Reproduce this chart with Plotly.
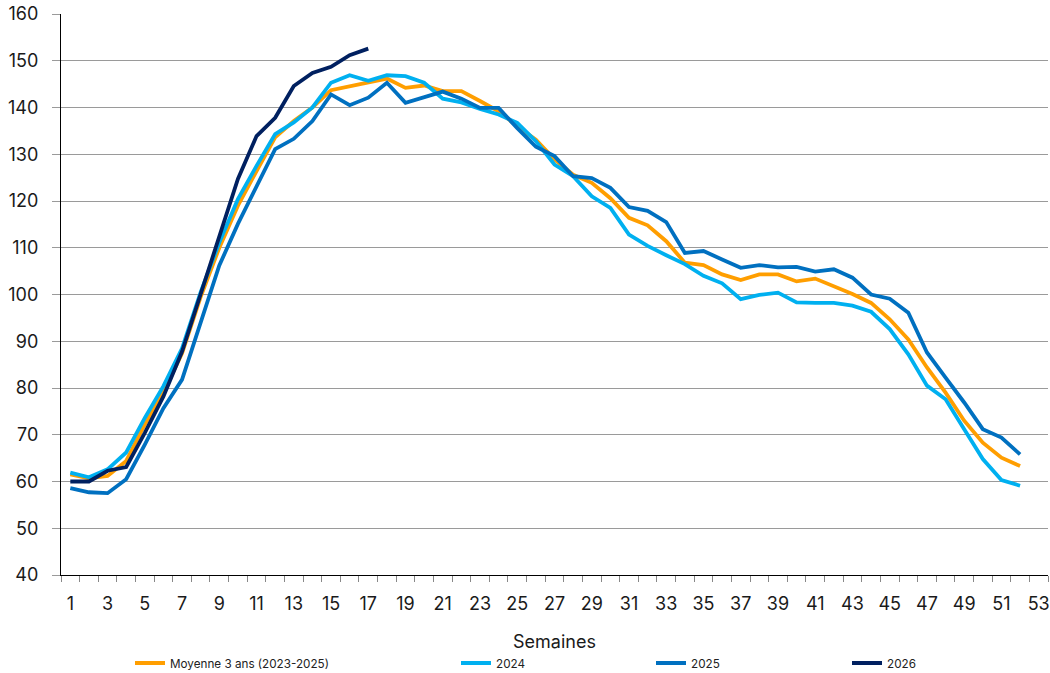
import plotly.graph_objects as go

weeks = list(range(1, 53))
weeks_2026 = list(range(1, 18))

moyenne = [61.5, 60.7, 61.2, 64.4, 72.2, 79.0, 87.4, 99.5, 110.0, 119.0,
           126.4, 133.6, 137.1, 140.0, 143.7, 144.6, 145.4, 146.2, 144.2, 144.7,
           143.5, 143.5, 141.4, 139.2, 136.0, 133.1, 128.9, 125.6, 123.9, 120.6,
           116.4, 114.8, 111.4, 106.8, 106.3, 104.3, 103.1, 104.3, 104.3, 102.8,
           103.4, 101.8, 100.1, 98.2, 94.7, 90.4, 84.4, 79.0, 73.0, 68.3,
           65.1, 63.3]
y2024 = [61.9, 60.9, 62.6, 66.2, 73.6, 80.4, 88.5, 100.5, 111.1, 120.4,
         127.5, 134.3, 136.8, 140.0, 145.3, 146.9, 145.7, 146.9, 146.7, 145.3,
         141.9, 141.1, 139.7, 138.5, 136.7, 132.8, 127.8, 125.3, 121.0, 118.5,
         112.8, 110.4, 108.4, 106.5, 104.0, 102.4, 99.0, 99.9, 100.4, 98.3,
         98.2, 98.2, 97.6, 96.3, 92.6, 87.2, 80.5, 77.6, 71.2, 64.8,
         60.3, 59.1]
y2025 = [58.6, 57.7, 57.5, 60.5, 67.9, 75.7, 81.8, 94.0, 106.2, 115.1,
         123.2, 131.1, 133.3, 137.1, 142.8, 140.5, 142.1, 145.3, 141.0, 142.3,
         143.4, 141.9, 139.9, 139.9, 135.6, 131.6, 129.6, 125.3, 124.9, 122.8,
         118.7, 117.9, 115.5, 108.9, 109.3, 107.5, 105.7, 106.3, 105.8, 105.9,
         104.9, 105.4, 103.6, 100.0, 99.1, 96.1, 87.6, 82.2, 76.9, 71.2,
         69.4, 65.8]
y2026 = [60.0, 60.0, 62.3, 63.1, 70.4, 78.2, 87.8, 100.0, 112.6, 124.7,
         133.9, 137.8, 144.6, 147.4, 148.7, 151.2, 152.6]

x_tick_vals = list(range(1, 54, 2))
y_tick_vals = list(range(40, 161, 10))

series = [
    ("Moyenne 3 ans (2023-2025)", weeks, moyenne, "#FF9E00", "legend"),
    ("2024", weeks, y2024, "#00B0F0", "legend2"),
    ("2025", weeks, y2025, "#0070C0", "legend3"),
    ("2026", weeks_2026, y2026, "#002060", "legend4"),
]

FONT = "Inter, Lato, 'Noto Sans', sans-serif"

fig = go.Figure()
for name, xs, ys, color, lg in series:
    fig.add_trace(go.Scatter(x=xs, y=ys, mode="lines", name=name,
                             line=dict(color=color, width=3.8),
                             legend=lg, hoverinfo="x+y+name"))

L, R, T, B = 61, 2, 14, 98
W, H = 1050, 673
pw = W - L - R
ph = H - T - B

def px_x(p):
    return (p - L) / pw

def px_y(p):
    return (H - B - p) / ph

leg_common = dict(orientation="h", yanchor="middle", xanchor="left",
                  font=dict(family=FONT, size=11.7, color="#222222"),
                  bgcolor="rgba(0,0,0,0)", borderwidth=0)
leg_y = px_y(663)

fig.update_layout(
    width=W, height=H,
    margin=dict(l=L, r=R, t=T, b=B, autoexpand=False),
    paper_bgcolor="white", plot_bgcolor="white",
    font=dict(family=FONT, color="#1a1a1a"),
    showlegend=True,
    legend=dict(x=px_x(130), y=leg_y, **leg_common),
    legend2=dict(x=px_x(456), y=leg_y, **leg_common),
    legend3=dict(x=px_x(651), y=leg_y, **leg_common),
    legend4=dict(x=px_x(847), y=leg_y, **leg_common),
    xaxis=dict(
        range=[0.5, 53.5], tickmode="array", tickvals=x_tick_vals,
        ticktext=[str(v) for v in x_tick_vals],
        ticks="", showgrid=False, zeroline=False, automargin=False,
        showline=True, linecolor="#000000", linewidth=1.2,
        tickfont=dict(family=FONT, size=18, color="#1a1a1a"),
        ticklabelstandoff=12,
        minor=dict(ticks="outside", tick0=0.5, dtick=1, ticklen=6,
                   tickcolor="#888888", tickwidth=1, showgrid=False),
        title=dict(text="Semaines", font=dict(family=FONT, size=18, color="#1a1a1a"),
                   standoff=22),
        fixedrange=True,
    ),
    yaxis=dict(
        range=[40, 160], tickmode="array", tickvals=y_tick_vals,
        ticks="outside", ticklen=8, tickcolor="#9a9a9a", tickwidth=1,
        showgrid=True, gridcolor="#9a9a9a", gridwidth=1,
        zeroline=False, automargin=False,
        showline=True, linecolor="#000000", linewidth=1.2,
        tickfont=dict(family=FONT, size=18, color="#1a1a1a"),
        ticklabelstandoff=10,
        fixedrange=True,
    ),
)

fig.write_html("out.html",
               config={"displayModeBar": False},
               post_script="document.body.style.margin='0';document.body.style.overflow='hidden';")
